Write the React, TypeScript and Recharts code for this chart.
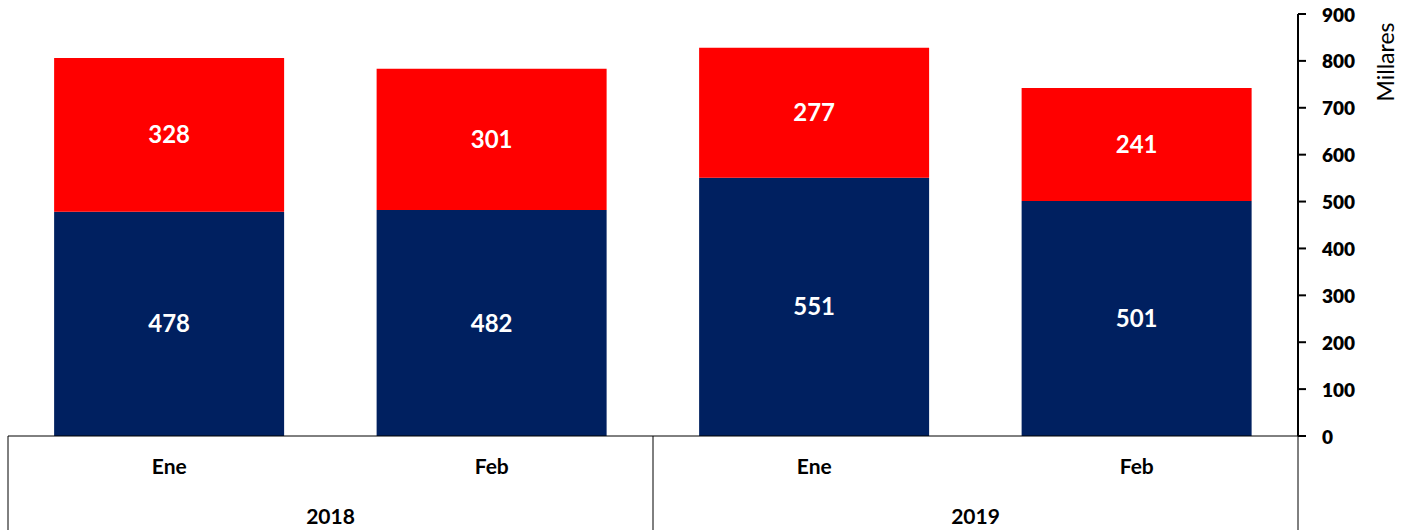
import React from "react";
import {
  BarChart,
  Bar,
  XAxis,
  YAxis,
  LabelList,
} from "recharts";

const months = ["Ene", "Feb", "Ene", "Feb"];
const years = ["2018", "2018", "2019", "2019"];
const blueValues = [478, 482, 551, 501];
const redValues = [328, 301, 277, 241];
const yTicks = [0, 100, 200, 300, 400, 500, 600, 700, 800, 900];

const CHART_W = 1407;
const CHART_H = 530;
const MARGIN_LEFT = 8;
const Y_AXIS_W = 109;
const X_AXIS_H = 94;
const BAND = (CHART_W - MARGIN_LEFT - Y_AXIS_W) / months.length;

const chartData = months.map((m, i) => ({
  key: `${years[i]}-${m}`,
  month: m,
  year: years[i],
  blue: blueValues[i],
  red: redValues[i],
}));

const FONT = "Lato, 'Open Sans', sans-serif";

// two-level category tick: month on the first row, year + separators below
function GroupTick(props: any) {
  const { x, y, index } = props;
  const row = chartData[index];
  if (!row) return null;
  const first = index === 0 || chartData[index - 1].year !== row.year;
  const last = index === chartData.length - 1;
  return (
    <g>
      <text
        x={x}
        y={y + 38}
        textAnchor="middle"
        fontFamily={FONT}
        fontWeight={700}
        fontSize={21}
        fill="#000"
      >
        {row.month}
      </text>
      {first && (
        <>
          <line x1={x - BAND / 2} x2={x - BAND / 2} y1={y} y2={CHART_H} stroke="#000" strokeWidth={1} />
          <text
            x={x + BAND / 2}
            y={y + 88}
            textAnchor="middle"
            fontFamily={FONT}
            fontWeight={700}
            fontSize={21}
            fill="#000"
          >
            {row.year}
          </text>
        </>
      )}
      {last && (
        <line x1={x + BAND / 2} x2={x + BAND / 2} y1={y} y2={CHART_H} stroke="#000" strokeWidth={1} />
      )}
    </g>
  );
}

function ValueTick(props: any) {
  const { x, y, payload } = props;
  return (
    <text
      x={x}
      y={y}
      textAnchor="start"
      dominantBaseline="central"
      fontFamily={FONT}
      fontWeight={800}
      fontSize={19}
      fill="#000"
    >
      {payload.value}
    </text>
  );
}

function UnitLabel(props: any) {
  const vb = props.viewBox || { x: 0, y: 0 };
  const cx = vb.x + 87;
  const cy = 62;
  return (
    <text
      x={cx}
      y={cy}
      transform={`rotate(-90 ${cx} ${cy})`}
      textAnchor="middle"
      dominantBaseline="central"
      fontFamily={FONT}
      fontSize={23}
      fill="#000"
    >
      Millares
    </text>
  );
}

export default function App() {
  return (
    <div style={{ position: "absolute", left: 0, top: 0, width: CHART_W, height: CHART_H, background: "#fff" }}>
      <BarChart
        width={CHART_W}
        height={CHART_H}
        data={chartData}
        margin={{ top: 14, right: 0, left: MARGIN_LEFT, bottom: 0 }}
        barCategoryGap="14.3%"
      >
        <XAxis
          dataKey="key"
          height={X_AXIS_H}
          axisLine={{ stroke: "#000", strokeWidth: 1 }}
          tickLine={false}
          tickSize={0}
          tickMargin={0}
          interval={0}
          tick={<GroupTick />}
        />
        <YAxis
          orientation="right"
          width={Y_AXIS_W}
          domain={[0, 900]}
          ticks={yTicks}
          interval={0}
          axisLine={{ stroke: "#000", strokeWidth: 2 }}
          tickLine={{ stroke: "#000", strokeWidth: 2 }}
          tickSize={8}
          tickMargin={16}
          tick={<ValueTick />}
          label={<UnitLabel />}
        />
        <Bar dataKey="blue" stackId="a" fill="#002060" isAnimationActive={false}>
          <LabelList
            dataKey="blue"
            position="center"
            fill="#fff"
            fontSize={24}
            fontWeight={700}
            fontFamily={FONT}
          />
        </Bar>
        <Bar dataKey="red" stackId="a" fill="#FF0000" isAnimationActive={false}>
          <LabelList
            dataKey="red"
            position="center"
            fill="#fff"
            fontSize={24}
            fontWeight={700}
            fontFamily={FONT}
          />
        </Bar>
      </BarChart>
    </div>
  );
}
